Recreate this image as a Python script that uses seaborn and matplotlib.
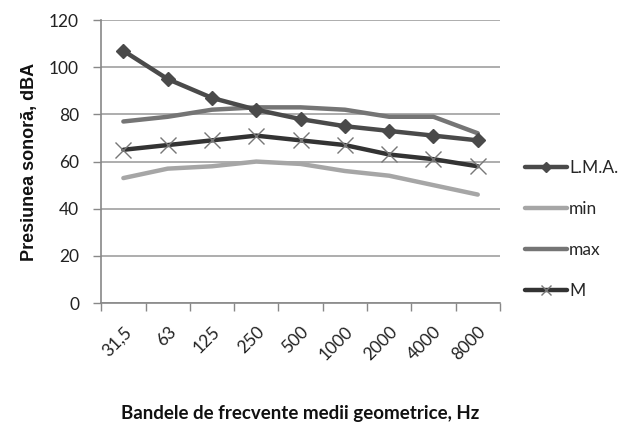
import matplotlib
matplotlib.use("Agg")
import matplotlib.pyplot as plt
import seaborn as sns
import pandas as pd
from matplotlib.lines import Line2D

categories = ["31,5", "63", "125", "250", "500", "1000", "2000", "4000", "8000"]
lma = [107, 95, 87, 82, 78, 75, 73, 71, 69]
vmin = [53, 57, 58, 60, 59, 56, 54, 50, 46]
vmax = [77, 79, 82, 83, 83, 82, 79, 79, 72]
m = [65, 67, 69, 71, 69, 67, 63, 61, 58]
series_names = ["L.M.A.", "min", "max", "M"]
y_ticks = [0, 20, 40, 60, 80, 100, 120]

sns.set_theme(style="white")
plt.rcParams['font.family'] = ['Lato', 'DejaVu Sans']

fig = plt.figure(figsize=(6.21, 4.28), dpi=100)
ax = fig.add_axes([0.163, 0.292, 0.642, 0.661])

pos = list(range(len(categories)))
styles = {
    "L.M.A.": dict(color="#4a4a4a", marker="D", ms=7, mfc="#4a4a4a", mec="#4a4a4a", mew=1, z=4),
    "min": dict(color="#a6a6a6", marker=None, ms=0, mfc="none", mec="none", mew=0, z=2),
    "max": dict(color="#757575", marker=None, ms=0, mfc="none", mec="none", mew=0, z=3),
    "M": dict(color="#333333", marker="x", ms=11, mfc="#777777", mec="#777777", mew=1, z=5),
}
data = {"L.M.A.": lma, "min": vmin, "max": vmax, "M": m}

for name in series_names:
    st = styles[name]
    df = pd.DataFrame({"x": pos, "y": data[name]})
    sns.lineplot(data=df, x="x", y="y", ax=ax, color=st["color"], linewidth=3.2,
                 marker=st["marker"], markersize=st["ms"], markerfacecolor=st["mfc"],
                 markeredgecolor=st["mec"], markeredgewidth=st["mew"], zorder=st["z"],
                 legend=False, sort=False)

ax.set_xlim(-0.5, len(categories) - 0.5)
ax.set_ylim(0, 120)
ax.set_yticks(y_ticks)
ax.set_yticklabels([str(v) for v in y_ticks], fontsize=12.5, color="#222222")
ax.yaxis.grid(True, color="#a0a0a0", linewidth=1.2)
ax.set_axisbelow(True)

ax.set_xticks(pos)
ax.set_xticklabels(categories, rotation=45, ha="right", va="top", rotation_mode="anchor",
                   fontsize=12.5, color="#222222")
ax.set_xticks([p - 0.5 for p in pos] + [len(categories) - 0.5], minor=True)
ax.tick_params(axis="x", which="major", length=0, pad=15)
ax.tick_params(axis="x", which="minor", length=6, width=1, color="#888888", direction="out", bottom=True)
ax.tick_params(axis="y", which="major", length=6, width=1, color="#888888", direction="out", left=True, pad=10)

for side in ["top", "right"]:
    ax.spines[side].set_visible(False)
for side in ["left", "bottom"]:
    ax.spines[side].set_color("#888888")
    ax.spines[side].set_linewidth(1.2)

ax.set_ylabel("Presiunea sonoră, dBA", fontsize=13, fontweight="bold",
              family=['Liberation Sans', 'DejaVu Sans'], labelpad=8, color="#111111")
ax.set_xlabel("Bandele de frecvente medii geometrice, Hz", fontsize=13.5, fontweight="bold",
              family=['Lato', 'DejaVu Sans'], labelpad=30, color="#111111")

handles = []
for name in series_names:
    st = styles[name]
    handles.append(Line2D([0], [0], color=st["color"], linewidth=3.2, marker=st["marker"],
                          markersize=st["ms"] * 0.7, markerfacecolor=st["mfc"],
                          markeredgecolor=st["mec"], markeredgewidth=st["mew"]))
leg = ax.legend(handles, series_names, loc="center left", bbox_to_anchor=(1.025, 0.26),
                frameon=False, labelspacing=1.45, handlelength=2.4,
                handletextpad=0.1, prop={'family': ['Lato', 'DejaVu Sans'], 'size': 12.5})

fig.savefig("out.png", dpi=100)
